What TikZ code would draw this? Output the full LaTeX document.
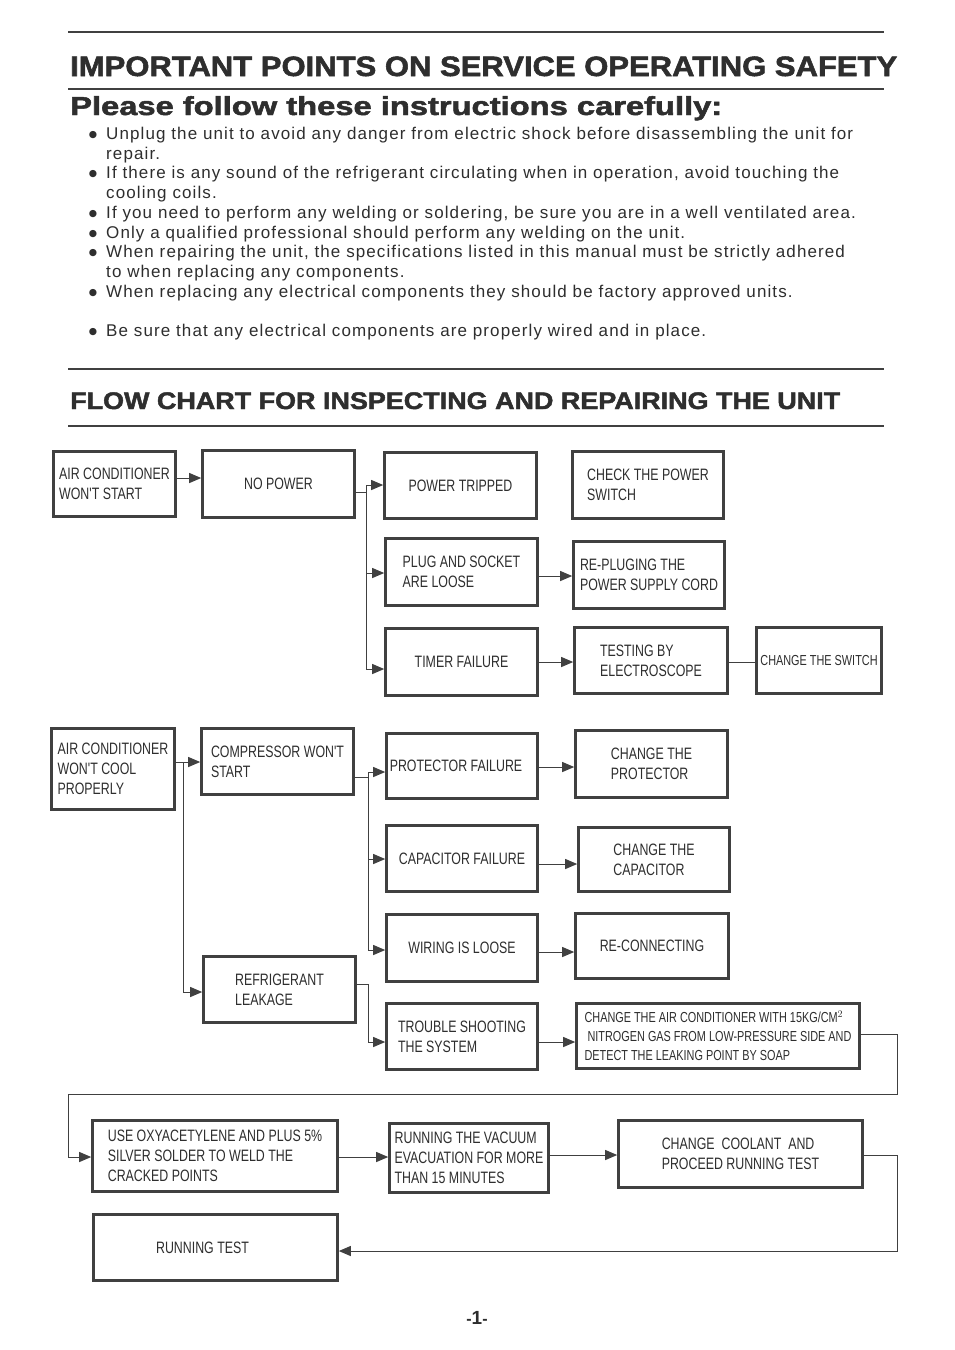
\documentclass[tikz,border=0pt]{standalone}
\usepackage{fontspec}
\usepackage{graphicx}
\setmainfont{Liberation Sans}
\newfontfamily\boxfont[FakeStretch=0.75]{Liberation Sans}
\newfontfamily\bodyfont[LetterSpace=6.5]{Liberation Sans}
\newfontfamily\headfont[FakeBold=1.8]{Liberation Sans Bold}
\newfontfamily\symfont{DejaVu Sans}
\usetikzlibrary{arrows.meta,positioning}
\definecolor{lineGray}{HTML}{404040}
\definecolor{textGray}{HTML}{2E2E2E}

\begin{document}
\begin{tikzpicture}[x=1pt, y=-1pt,
    box/.style={draw=lineGray, line width=2.6pt, text=textGray, align=left, inner sep=0pt,
      font=\boxfont\fontsize{16.5}{20}\selectfont},
    sz/.style 2 args={minimum width=#1pt, minimum height=#2pt},
    arr/.style={-{Triangle[length=12pt,width=10pt]}, line width=1pt, draw=lineGray},
    ln/.style={line width=1pt, draw=lineGray},
    body/.style={text=textGray, align=left, inner sep=0pt,
      font=\bodyfont\fontsize{17}{19.7}\selectfont},
    dot/.style={text=textGray, inner sep=0pt, font=\symfont\fontsize{9.5}{11}\selectfont},
    head/.style={text=textGray, inner sep=0pt, anchor=base west}
  ]
    \fill[white] (0,0) rectangle (954,1350);
    \useasboundingbox (0,0) rectangle (954,1350);

    % headings and rules
    \draw[lineGray, line width=2pt] (68,32) -- (884,32);
    \draw[lineGray, line width=1.3pt] (68,89) -- (884,89);
    \draw[lineGray, line width=2pt] (68,369) -- (884,369);
    \draw[lineGray, line width=2pt] (68,426) -- (884,426);
    \node[head] (title) at (70,76)
      {\resizebox{827pt}{\height}{\headfont\fontsize{28}{30}\selectfont IMPORTANT POINTS ON SERVICE OPERATING SAFETY}};
    \node[head] (please) at (70,115)
      {\resizebox{652pt}{\height}{\headfont\fontsize{26}{30}\selectfont Please follow these instructions carefully:}};
    \node[head] (flowtitle) at (70,409)
      {\resizebox{770pt}{\height}{\headfont\fontsize{24}{30}\selectfont FLOW CHART FOR INSPECTING AND REPAIRING THE UNIT}};

    % safety points (first and last baseline)
    \foreach \yb/\yl/\txt in {
        139/159/{Unplug the unit to avoid any danger from electric shock before disassembling the unit for\\repair.},
        178/198/{If there is any sound of the refrigerant circulating when in operation, avoid touching the\\cooling coils.},
        218/218/{If you need to perform any welding or soldering, be sure you are in a well ventilated area.},
        238/238/{Only a qualified professional should perform any welding on the unit.},
        257/277/{When repairing the unit, the specifications listed in this manual must be strictly adhered\\to when replacing any components.},
        297/297/{When replacing any electrical components they should be factory approved units.},
        336/336/{Be sure that any electrical components are properly wired and in place.}} {
      \node[dot, anchor=base] (bul\yb) at (93,\yb-1.5) {●};
      \node[body, anchor=base west] (pt\yb) at (106,\yl) {\txt};
    }

    % won't start branch
    \node[box, sz={122}{65}] (acstart) at (114.5,484) {AIR CONDITIONER\\WON'T START};
    \node[box, sz={152}{67}] (nopower) at (278.5,484) {NO POWER};
    \node[box, sz={152}{66}] (tripped) at (460.5,485.5) {POWER TRIPPED};
    \node[box, sz={152}{67}] (plug) at (461.5,572) {PLUG AND SOCKET\\ARE LOOSE};
    \node[box, sz={152}{67}] (timer) at (461.5,662) {TIMER FAILURE};
    \node[box, sz={151}{67}] (checksw) at (648,485) {CHECK THE POWER\\SWITCH};
    \node[box, sz={151}{67}] (replug) at (649,575) {RE-PLUGING THE\\POWER SUPPLY CORD};
    \node[box, sz={153}{66}] (testing) at (651,660.5) {TESTING BY\\ELECTROSCOPE};
    \node[box, sz={125}{66}, font=\boxfont\fontsize{14.5}{18}\selectfont] (changesw) at (819,660.5) {CHANGE THE SWITCH};

    % won't cool branch
    \node[box, sz={123}{81}] (accool) at (113,769) {AIR CONDITIONER\\WON'T COOL\\PROPERLY};
    \node[box, sz={152}{66}] (compressor) at (277.5,761.5) {COMPRESSOR WON'T\\START};
    \node[box, sz={151}{65}] (protector) at (462,766) {PROTECTOR FAILURE\hspace{12pt}};
    \node[box, sz={151}{66}] (capacitor) at (462,858.5) {CAPACITOR FAILURE};
    \node[box, sz={151}{67}] (wiring) at (462,948) {WIRING IS LOOSE};
    \node[box, sz={152}{66}] (leakage) at (279.5,989.5) {REFRIGERANT\\LEAKAGE};
    \node[box, sz={151}{66}] (trouble) at (462,1036.5) {TROUBLE SHOOTING\\THE SYSTEM};
    \node[box, sz={152}{67}] (chprot) at (651.5,764) {CHANGE THE\\PROTECTOR};
    \node[box, sz={151}{64}] (chcap) at (654,859.5) {CHANGE THE\\CAPACITOR};
    \node[box, sz={153}{65}] (reconn) at (652,946) {RE-CONNECTING};
    \node[box, sz={283}{65}, font=\boxfont\fontsize{14.5}{19}\selectfont] (nitrogen) at (718,1036)
      {CHANGE THE AIR CONDITIONER WITH 15KG/CM$^2$\\\ NITROGEN GAS FROM LOW-PRESSURE SIDE AND\\DETECT THE LEAKING POINT BY SOAP};

    % repair sequence
    \node[box, sz={245}{71}] (weld) at (215,1156) {USE OXYACETYLENE AND PLUS 5\%\\SILVER SOLDER TO WELD THE\\CRACKED POINTS};
    \node[box, sz={159}{69}] (vacuum) at (469,1158) {RUNNING THE VACUUM\\EVACUATION FOR MORE\\THAN 15 MINUTES};
    \node[box, sz={244}{67}] (coolant) at (740.5,1154) {CHANGE \ COOLANT \ AND\\PROCEED RUNNING TEST};
    \node[box, sz={244}{66}] (runtest) at (215.5,1247.5) {RUNNING TEST\hspace{26pt}};

    \node[text=textGray, font=\bfseries\fontsize{16}{18}\selectfont] (pagenum) at (477,1318) {-{\fontsize{19}{20}\selectfont 1}-};

    % connectors
    \coordinate (f1) at (366,492);
    \coordinate (f2) at (183,762);
    \coordinate (f3) at (368,777);
    \coordinate (f4) at (368,984);
    \coordinate (r1) at (897,1034);
    \coordinate (r2) at (897,1094);
    \coordinate (l1) at (68,1094);
    \coordinate (r3) at (897,1155);
    \coordinate (r4) at (897,1251);

    \draw[arr] (acstart.east |- 0,478) -- (nopower.west |- 0,478);
    \draw[ln] (nopower.east |- f1) -- (f1);
    \draw[ln] (f1 |- 0,485) -- (f1 |- 0,669);
    \draw[arr] (f1 |- 0,485) -- (tripped.west |- 0,485);
    \draw[arr] (f1 |- 0,573) -- (plug.west |- 0,573);
    \draw[arr] (f1 |- 0,669) -- (timer.west |- 0,669);
    \draw[arr] (plug.east |- 0,576) -- (replug.west |- 0,576);
    \draw[arr] (timer.east |- 0,662) -- (testing.west |- 0,662);
    \draw[ln] (testing.east |- 0,662) -- (changesw.west |- 0,662);

    \draw[ln] (accool.east |- f2) -- (f2) -- (f2 |- 0,992);
    \draw[arr] (f2) -- (compressor.west |- f2);
    \draw[arr] (f2 |- 0,992) -- (leakage.west |- 0,992);
    \draw[ln] (compressor.east |- f3) -- (f3);
    \draw[ln] (f3 |- 0,772) -- (f3 |- 0,950);
    \draw[arr] (f3 |- 0,772) -- (protector.west |- 0,772);
    \draw[arr] (f3 |- 0,859) -- (capacitor.west |- 0,859);
    \draw[arr] (f3 |- 0,950) -- (wiring.west |- 0,950);
    \draw[arr] (protector.east |- 0,767) -- (chprot.west |- 0,767);
    \draw[arr] (capacitor.east |- 0,864) -- (chcap.west |- 0,864);
    \draw[arr] (wiring.east |- 0,952) -- (reconn.west |- 0,952);
    \draw[arr] (leakage.east |- f4) -- (f4) -- (f4 |- 0,1042) -- (trouble.west |- 0,1042);
    \draw[arr] (trouble.east |- 0,1042) -- (nitrogen.west |- 0,1042);

    \draw[arr] (nitrogen.east |- r1) -- (r1) -- (r2) -- (l1) -- (l1 |- 0,1157) -- (weld.west |- 0,1157);
    \draw[arr] (weld.east |- 0,1157) -- (vacuum.west |- 0,1157);
    \draw[arr] (vacuum.east |- 0,1155) -- (coolant.west |- 0,1155);
    \draw[arr] (coolant.east |- r3) -- (r3) -- (r4) -- (runtest.east |- r4);
  \end{tikzpicture}
\end{document}
